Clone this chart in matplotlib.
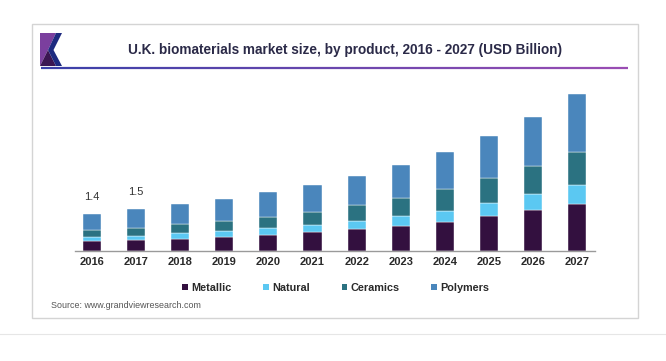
import matplotlib
matplotlib.use("Agg")
import matplotlib.pyplot as plt
import numpy as np
from matplotlib.patches import Rectangle, Polygon, Patch
from matplotlib.collections import LineCollection
from matplotlib.colors import to_rgb

plt.rcParams['font.family'] = ['Liberation Sans', 'DejaVu Sans']

# data (USD Billion)
years = ['2016', '2017', '2018', '2019', '2020', '2021',
         '2022', '2023', '2024', '2025', '2026', '2027']
metallic = [0.36, 0.42, 0.46, 0.51, 0.60, 0.69, 0.80, 0.94, 1.06, 1.29, 1.51, 1.73]
natural = [0.15, 0.15, 0.21, 0.23, 0.26, 0.28, 0.32, 0.36, 0.44, 0.49, 0.59, 0.73]
ceramics = [0.27, 0.30, 0.33, 0.37, 0.41, 0.48, 0.58, 0.66, 0.78, 0.91, 1.04, 1.22]
polymers = [0.59, 0.67, 0.73, 0.81, 0.90, 1.00, 1.09, 1.24, 1.39, 1.58, 1.84, 2.14]
totals_shown = {0: '1.4', 1: '1.5'}

series_names = ['Metallic', 'Natural', 'Ceramics', 'Polymers']
series_colors = ['#33103f', '#5bc8f2', '#2b7281', '#4a86bc']

W, H = 666, 361
fig = plt.figure(figsize=(W / 100, H / 100), dpi=100)
fig.patch.set_facecolor('white')

def fx(px):
    return px / W

def fy(py):
    return 1 - py / H

# card frame and faint rule below
fig.add_artist(Rectangle((fx(32), fy(318)), fx(638) - fx(32), fy(24) - fy(318),
                         transform=fig.transFigure, facecolor='none',
                         edgecolor='#d4d4d4', lw=1.0))
fig.add_artist(plt.Line2D([0, 1], [fy(334), fy(334)], transform=fig.transFigure,
                          color='#e6e6e6', lw=0.8))

# logo
logo_purple = [(40, 33), (56, 33), (48, 50), (40, 66)]
logo_dark = [(48, 50), (56, 66), (40, 66)]
logo_blue = [(56, 33), (62, 33), (53.5, 50), (62, 66), (56, 66), (48, 50)]
for pts, col in [(logo_purple, '#7b3f9e'), (logo_dark, '#3b1652'), (logo_blue, '#1e2b80')]:
    fig.add_artist(Polygon([(fx(a), fy(b)) for a, b in pts], closed=True,
                           transform=fig.transFigure, facecolor=col, edgecolor='none'))

# gradient header rule
xs = np.linspace(fx(41), fx(628), 200)
segs = [[(xs[i], fy(68)), (xs[i + 1], fy(68))] for i in range(len(xs) - 1)]
c0, c1 = np.array(to_rgb('#3a40a8')), np.array(to_rgb('#9a4db3'))
cols = [c0 + (c1 - c0) * t for t in np.linspace(0, 1, len(segs))]
fig.add_artist(LineCollection(segs, colors=cols, linewidths=1.6, transform=fig.transFigure))

fig.text(fx(345), fy(50), 'U.K. biomaterials market size, by product, 2016 - 2027 (USD Billion)',
         ha='center', va='center', fontsize=9.8, fontweight='bold', color='#2b2a48')

# bar axes
ax = fig.add_axes([fx(75), fy(251), fx(595) - fx(75), fy(85) - fy(251)])
x = np.arange(len(years))
bottom = np.zeros(len(years))
for name, vals, col in zip(series_names, [metallic, natural, ceramics, polymers], series_colors):
    ax.bar(x, vals, width=0.41, bottom=bottom, color=col, edgecolor='white',
           linewidth=0.3, label=name, zorder=2)
    bottom += np.array(vals)

for i, txt in totals_shown.items():
    ax.text(x[i], bottom[i] + 0.45, txt, ha='center', va='bottom',
            fontsize=8, color='#333333')

ax.set_xlim(-0.38, 11.4)
ax.set_ylim(0, 166 / 27)
ax.set_xticks(x)
ax.set_xticklabels(years, fontsize=8, color='#2a2a2a', fontweight='bold')
ax.tick_params(axis='x', length=0, pad=4.5)
ax.set_yticks([])
for s in ['top', 'right', 'left']:
    ax.spines[s].set_visible(False)
ax.spines['bottom'].set_color('#9a9a9a')
ax.spines['bottom'].set_linewidth(1.0)
ax.patch.set_alpha(0)

handles = [Patch(facecolor=c, edgecolor='none') for c in series_colors]
fig.legend(handles, series_names, loc='center', bbox_to_anchor=(fx(336), fy(288)),
           ncol=4, frameon=False, handlelength=0.5, handleheight=0.5,
           handletextpad=0.35, columnspacing=2.9,
           prop={'size': 7.8, 'weight': 'bold'}, labelcolor='#2a2a2a')

fig.text(fx(51), fy(305), 'Source: www.grandviewresearch.com', ha='left', va='center',
         fontsize=6.4, color='#555555')

fig.savefig('out.png', dpi=100)
